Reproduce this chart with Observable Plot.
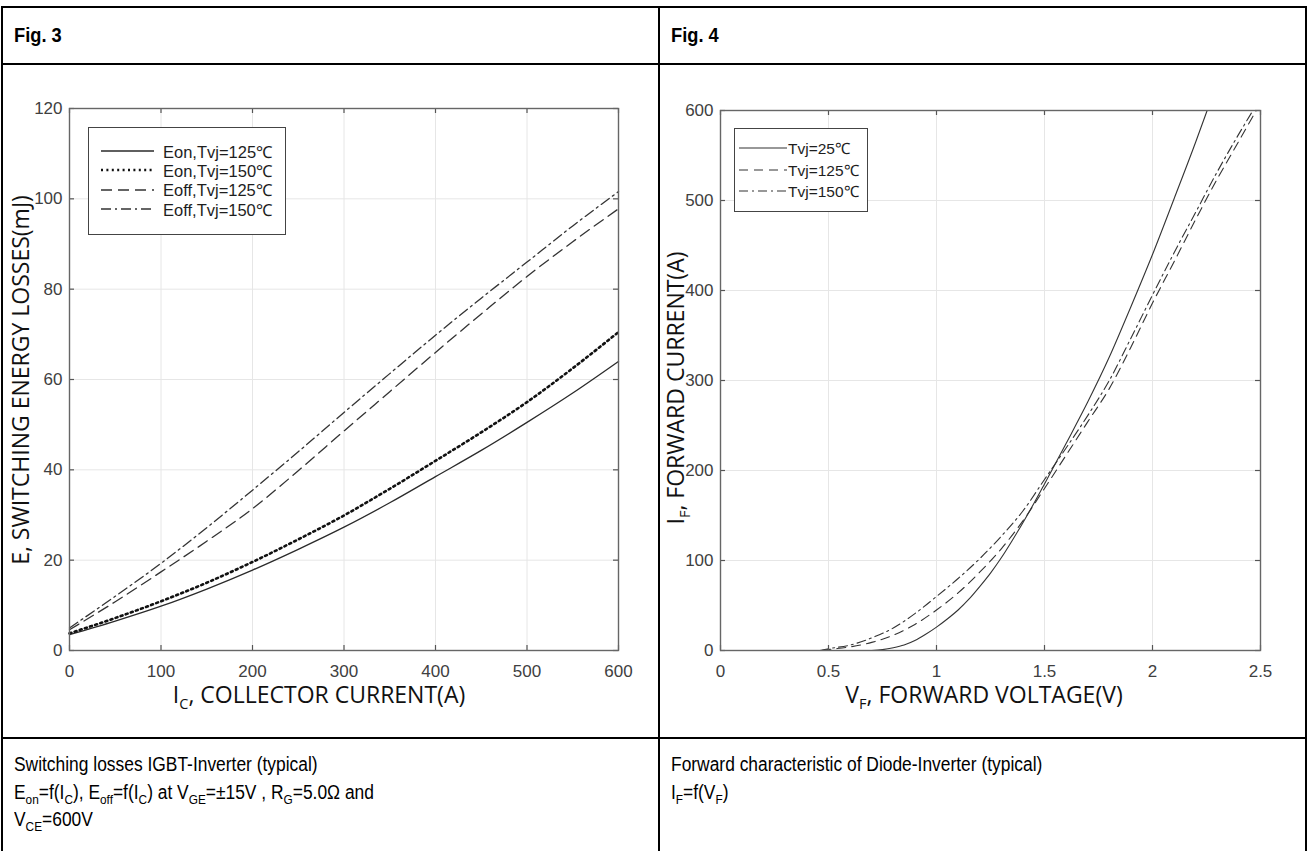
<!DOCTYPE html>
<html>
<head>
<meta charset="utf-8">
<script src="https://cdn.jsdelivr.net/npm/d3@7"></script>
<script src="https://cdn.jsdelivr.net/npm/@observablehq/plot@0.6"></script>
<style>
  html, body { margin: 0; padding: 0; background: #fff; }
  #page { position: relative; width: 1311px; height: 851px; overflow: hidden; background: #fff;
          font-family: "Liberation Sans", Arial, sans-serif; color: #000; }
  .hl { position: absolute; background: #000; }
  .hdr { position: absolute; font-weight: bold; font-size: 21px; line-height: 24px; white-space: nowrap;
         transform: scaleX(0.87); transform-origin: 0 0; }
  .cap { position: absolute; font-size: 20px; line-height: 27.5px; white-space: nowrap;
         transform: scaleX(0.87); transform-origin: 0 0; }
  .cap sub { font-size: 0.68em; vertical-align: -0.35em; line-height: 0; }
  .chart { position: absolute; }
  .legend { position: absolute; border: 1px solid #444; background: #fff; box-sizing: border-box; }
  .legend .row { position: absolute; left: 0; display: flex; align-items: center; white-space: nowrap; color: #1e1e1e; }
  .legend svg { display: block; }
</style>
</head>
<body>
<div id="page"></div>
<script>
// ---------------- DATA ----------------
// Fig. 3 : switching energy losses (mJ) vs collector current (A)
const fig3Current = [0, 50, 100, 150, 200, 250, 300, 350, 400, 450, 500, 550, 600];
const eonT125  = [3.5, 6.5, 9.8, 13.6, 17.8, 22.4, 27.3, 32.7, 38.5, 44.3, 50.5, 57.0, 64.0];
const eonT150  = [3.8, 7.2, 10.9, 15.0, 19.6, 24.6, 29.9, 35.8, 42.0, 48.3, 55.0, 62.5, 70.5];
const eoffT125 = [4.6, 10.8, 17.4, 24.2, 31.4, 39.8, 48.6, 57.3, 66.0, 74.5, 82.8, 90.5, 97.8];
const eoffT150 = [5.0, 12.0, 19.3, 27.2, 35.5, 44.0, 52.7, 61.3, 69.8, 78.0, 86.0, 94.0, 101.6];
const fig3Names = ["Eon,Tvj=125℃", "Eon,Tvj=150℃", "Eoff,Tvj=125℃", "Eoff,Tvj=150℃"];
const fig3XTicks = [0, 100, 200, 300, 400, 500, 600];
const fig3YTicks = [0, 20, 40, 60, 80, 100, 120];

// Fig. 4 : forward current (A) vs forward voltage (V)
const vfT25  = [0.70, 0.75, 0.80, 0.85, 0.90, 0.95, 1.00, 1.05, 1.10, 1.15, 1.20, 1.25, 1.30, 1.35, 1.40, 1.45, 1.50, 1.60, 1.70, 1.80, 1.90, 2.00, 2.10, 2.20, 2.253];
const ifT25  = [0, 1, 3, 6, 11, 18, 26, 35, 45, 57, 71, 86, 103, 122, 142, 163, 185, 230, 276, 326, 382, 440, 502, 565, 600];
const vfT125 = [0.47, 0.50, 0.60, 0.70, 0.80, 0.90, 1.00, 1.10, 1.20, 1.30, 1.40, 1.50, 1.60, 1.70, 1.80, 1.90, 2.00, 2.10, 2.20, 2.30, 2.40, 2.48];
const ifT125 = [0, 1, 4, 9, 17, 29, 45, 64, 87, 113, 144, 180, 217, 254, 291, 337, 386, 432, 479, 524, 566, 600];
const vfT150 = [0.46, 0.50, 0.60, 0.70, 0.80, 0.90, 1.00, 1.10, 1.20, 1.30, 1.40, 1.50, 1.60, 1.70, 1.80, 1.90, 2.00, 2.10, 2.20, 2.30, 2.40, 2.465];
const ifT150 = [0, 2, 6, 14, 25, 41, 60, 80, 102, 127, 155, 190, 225, 261, 300, 347, 395, 442, 487, 532, 574, 600];
const fig4Names = ["Tvj=25℃", "Tvj=125℃", "Tvj=150℃"];
const fig4XTicks = [0, 0.5, 1, 1.5, 2, 2.5];
const fig4YTicks = [0, 100, 200, 300, 400, 500, 600];

// ---------------- STYLES ----------------
const fig3Styles = [
  {color: "#2a2a2a", width: 1.3, dash: null},
  {color: "#111",    width: 2.6, dash: "2,3.4"},
  {color: "#333",    width: 1.3, dash: "11,6"},
  {color: "#333",    width: 1.3, dash: "10,4,2,4"}
];
const fig4Styles = [
  {color: "#333", width: 1.1, dash: null},
  {color: "#333", width: 1.1, dash: "9,6"},
  {color: "#333", width: 1.1, dash: "9,4,2,4"}
];

// ---------------- LAYOUT ----------------
const page = document.getElementById("page");
function hline(x1, x2, y, t = 2) { const d = document.createElement("div"); d.className = "hl";
  Object.assign(d.style, {left: x1 + "px", top: (y - t / 2) + "px", width: (x2 - x1) + "px", height: t + "px"}); page.appendChild(d); }
function vline(x, y1, y2, t = 2) { const d = document.createElement("div"); d.className = "hl";
  Object.assign(d.style, {left: (x - t / 2) + "px", top: y1 + "px", width: t + "px", height: (y2 - y1) + "px"}); page.appendChild(d); }
hline(1, 1307, 7); hline(1, 1307, 64); hline(1, 1307, 738);
vline(2, 6, 851); vline(659, 6, 851); vline(1306, 6, 851);

function html(cls, left, top, inner) { const d = document.createElement("div"); d.className = cls;
  d.style.left = left + "px"; d.style.top = top + "px"; d.innerHTML = inner; page.appendChild(d); return d; }
html("hdr", 14, 23, "Fig. 3");
html("hdr", 671, 23, "Fig. 4");
html("cap", 14, 751, "Switching losses IGBT-Inverter (typical)<br>E<sub>on</sub>=f(I<sub>C</sub>), E<sub>off</sub>=f(I<sub>C</sub>) at V<sub>GE</sub>=±15V , R<sub>G</sub>=5.0Ω and<br>V<sub>CE</sub>=600V");
html("cap", 671, 751, "Forward characteristic of Diode-Inverter (typical)<br>I<sub>F</sub>=f(V<sub>F</sub>)");

// ---------------- CHARTS ----------------
function drawChart({left, top, width, height, margin, xDomain, yDomain, xTicks, yTicks, series, xLabel, yLabel, xLabelPos, yLabelPos}) {
  const iw = width - margin.left - margin.right;
  const ih = height - margin.top - margin.bottom;
  const tl = 5;
  const plot = Plot.plot({
    width, height,
    marginLeft: margin.left, marginRight: margin.right, marginTop: margin.top, marginBottom: margin.bottom,
    x: {domain: xDomain, label: null},
    y: {domain: yDomain, label: null},
    style: {fontFamily: "'Liberation Sans', Arial, sans-serif", fontSize: "17px", color: "#404040", background: "transparent", overflow: "visible"},
    marks: [
      Plot.gridX(xTicks, {stroke: "#e6e6e6", strokeOpacity: 1, strokeWidth: 1}),
      Plot.gridY(yTicks, {stroke: "#e6e6e6", strokeOpacity: 1, strokeWidth: 1}),
      ...series.map(s => Plot.line(s.data, {x: "x", y: "y", stroke: s.style.color, strokeWidth: s.style.width,
        strokeDasharray: s.style.dash, curve: "monotone-x"})),
      Plot.ruleX(xTicks, {insetTop: ih - tl, stroke: "#555", strokeWidth: 1.2}),
      Plot.ruleX(xTicks, {insetBottom: ih - tl, stroke: "#555", strokeWidth: 1.2}),
      Plot.ruleY(yTicks, {insetRight: iw - tl, stroke: "#555", strokeWidth: 1.2}),
      Plot.ruleY(yTicks, {insetLeft: iw - tl, stroke: "#555", strokeWidth: 1.2}),
      Plot.axisX(xTicks, {tickSize: 0, tickPadding: 14, label: null, tickFormat: d => String(d)}),
      Plot.axisY(yTicks, {tickSize: 0, tickPadding: 7, label: null, tickFormat: d => String(d)}),
      Plot.frame({stroke: "#666", strokeWidth: 1.4})
    ]
  });
  const wrap = document.createElement("div");
  wrap.className = "chart";
  wrap.style.left = left + "px"; wrap.style.top = top + "px";
  wrap.appendChild(plot);
  page.appendChild(wrap);

  const svg = d3.select(plot);
  function addLabel(parts, x, y, rot) {
    const t = svg.append("text")
      .attr("transform", `translate(${x},${y}) rotate(${rot})`)
      .attr("text-anchor", "middle")
      .attr("font-family", "'Open Sans', sans-serif")
      .attr("font-size", 23)
      .attr("fill", "#111")
      .attr("dy", "0.36em");
    parts.forEach(([s, sub]) => {
      const ts = t.append("tspan").text(s);
      if (sub) ts.attr("font-size", 14.5).attr("dy", 6);
      else if (t.selectAll("tspan").size() > 1) ts.attr("dy", -6);
    });
  }
  addLabel(xLabel, xLabelPos[0], xLabelPos[1], 0);
  addLabel(yLabel, yLabelPos[0], yLabelPos[1], -90);
  return wrap;
}

function legend({left, top, width, height, padTop, rowH, sampleX, sampleW, gap, fontSize, names, styles}) {
  const box = document.createElement("div");
  box.className = "legend";
  Object.assign(box.style, {left: left + "px", top: top + "px", width: width + "px", height: height + "px"});
  names.forEach((n, i) => {
    const row = document.createElement("div");
    row.className = "row";
    row.style.top = (padTop + i * rowH - 1) + "px";
    row.style.height = rowH + "px";
    row.style.paddingLeft = sampleX + "px";
    row.style.fontSize = fontSize + "px";
    const st = styles[i];
    row.innerHTML = `<svg width="${sampleW}" height="6"><line x1="0" y1="3" x2="${sampleW}" y2="3" stroke="${st.color}" stroke-width="${st.width}" ${st.dash ? `stroke-dasharray="${st.dash}"` : ""}/></svg><span style="margin-left:${gap}px">${n}</span>`;
    box.appendChild(row);
  });
  page.appendChild(box);
}

const fig3Data = [eonT125, eonT150, eoffT125, eoffT150].map((arr, i) => ({
  data: fig3Current.map((x, j) => ({x, y: arr[j]})), style: fig3Styles[i]
}));
drawChart({
  left: 3, top: 66, width: 655, height: 670,
  margin: {left: 66, right: 40, top: 42, bottom: 86},
  xDomain: [0, 600], yDomain: [0, 120], xTicks: fig3XTicks, yTicks: fig3YTicks,
  series: fig3Data,
  xLabel: [["I"], ["C", true], [", COLLECTOR CURRENT(A)"]],
  yLabel: [["E, SWITCHING ENERGY LOSSES(mJ)"]],
  xLabelPos: [316, 629], yLabelPos: [18, 314]
});
legend({left: 88, top: 127, width: 198, height: 108, padTop: 14.5, rowH: 19.3, sampleX: 12, sampleW: 53, gap: 9,
  fontSize: 16.5, names: fig3Names, styles: fig3Styles});

const fig4Pairs = [[vfT25, ifT25], [vfT125, ifT125], [vfT150, ifT150]];
const fig4Data = fig4Pairs.map(([xs, ys], i) => ({
  data: xs.map((x, j) => ({x, y: ys[j]})), style: fig4Styles[i]
}));
drawChart({
  left: 660, top: 66, width: 645, height: 670,
  margin: {left: 60, right: 45, top: 44, bottom: 86},
  xDomain: [0, 2.5], yDomain: [0, 600], xTicks: fig4XTicks, yTicks: fig4YTicks,
  series: fig4Data,
  xLabel: [["V"], ["F", true], [", FORWARD VOLTAGE(V)"]],
  yLabel: [["I"], ["F", true], [", FORWARD CURRENT(A)"]],
  xLabelPos: [324, 629], yLabelPos: [16, 322]
});
legend({left: 734, top: 128, width: 134, height: 84, padTop: 9, rowH: 21.7, sampleX: 4, sampleW: 48, gap: 1,
  fontSize: 15.5, names: fig4Names, styles: fig4Styles});
</script>
</body>
</html>
